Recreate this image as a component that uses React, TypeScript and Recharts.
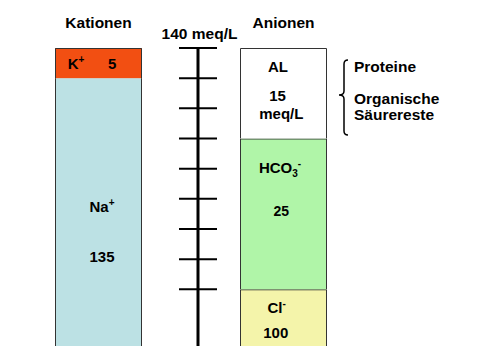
import React from 'react';
import { BarChart, Bar, XAxis, YAxis } from 'recharts';

// Ionogramm des Plasmas (meq/L)
const columns = ['Kationen', 'Anionen'];
const natrium = [135, 0];
const kalium = [5, 0];
const chlorid = [0, 100];
const bicarbonat = [0, 25];
const anionenluecke = [0, 15];

const scaleTicks = [140, 135, 130, 125, 120, 115, 110, 105, 100];
const scaleTop = 140;
const scaleBottom = 90.6;
const scaleUnit = 'meq/L';
const anionGapNotes = ['Proteine', 'Organische', 'Säurereste'];

const rows = columns.map((name, i) => ({
  name,
  Na: natrium[i],
  K: kalium[i],
  Cl: chlorid[i],
  HCO3: bicarbonat[i],
  AL: anionenluecke[i],
}));

const W = 471;
const H = 344;
const FONT = '"Liberation Sans", Arial, sans-serif';
const INK = '#000';
const EDGE = '#333';
const PLOT_TOP = 40;
const PLOT_BOTTOM_GAP = 6;
const SCALE_X = 190;
const SCALE_HALF_TICK = 19;

type Seg = { t: string; sub?: boolean; sup?: boolean };
type Line = {
  dx: number;
  dy: number;
  anchor?: 'start' | 'middle' | 'end';
  segs?: Seg[];
  value?: boolean;
  size?: number;
};

function renderSegs(segs: Seg[]) {
  let cur = 0;
  return segs.map((s, i) => {
    const target = s.sup ? -6 : s.sub ? 4 : 0;
    const dy = target - cur;
    cur = target;
    return (
      <tspan key={i} dy={dy} fontSize={s.sup || s.sub ? 10 : undefined}>
        {s.t}
      </tspan>
    );
  });
}

function barShape(key: string, fill: string, openTop: boolean, lines: Line[]) {
  return (props: any) => {
    const { x, y, width, height, payload } = props;
    if (!height || height <= 0 || !payload || !payload[key]) return null;
    const value = payload[key];
    const l = Math.round(x) + 0.5;
    const r = Math.round(x + width) - 0.5;
    const t = y;
    const b = y + height;
    const outline = openTop
      ? `M${l},${t} V${b} M${r},${t} V${b}`
      : `M${l},${b} V${t + 0.5} H${r} V${b}`;
    return (
      <g>
        <rect x={x} y={y} width={width} height={height} fill={fill} />
        <path d={outline} fill="none" stroke={EDGE} strokeWidth={1} />
        {lines.map((ln, i) => (
          <text
            key={i}
            x={x + ln.dx}
            y={y + ln.dy}
            textAnchor={ln.anchor ?? 'middle'}
            fontFamily={FONT}
            fontWeight="bold"
            fontSize={ln.size ?? 15}
            fill={INK}
          >
            {ln.value ? String(value) : renderSegs(ln.segs ?? [])}
          </text>
        ))}
      </g>
    );
  };
}

const shapeNa = barShape('Na', '#BCE1E4', true, [
  { dx: 47, dy: 134.2, segs: [{ t: 'Na' }, { t: '+', sup: true }] },
  { dx: 47, dy: 184.2, value: true },
]);
const shapeK = barShape('K', '#F24F12', false, [
  { dx: 12.7, dy: 20.7, anchor: 'start', segs: [{ t: 'K' }, { t: '+', sup: true }] },
  { dx: 57.2, dy: 20.7, value: true },
]);
const shapeCl = barShape('Cl', '#F4F4AA', false, [
  { dx: 36.7, dy: 24.1, segs: [{ t: 'Cl' }, { t: '-', sup: true }] },
  { dx: 35.8, dy: 49.1, value: true },
]);
const shapeHCO3 = barShape('HCO3', '#B0F5A8', false, [
  { dx: 40, dy: 34.3, segs: [{ t: 'HCO' }, { t: '3', sub: true }, { t: '-', sup: true }] },
  { dx: 41.3, dy: 77.3, value: true, size: 14 },
]);
const shapeAL = barShape('AL', '#FFFFFF', false, [
  { dx: 38, dy: 24.3, segs: [{ t: 'AL' }] },
  { dx: 37.5, dy: 53.3, value: true },
  { dx: 41.3, dy: 71, segs: [{ t: 'meq/L' }] },
]);

const textStyle = { fontFamily: FONT, fontWeight: 'bold' as const, fontSize: 15.5, fill: INK };

// Tick of the middle meq/L scale: a dash crossing the axis line, with the unit
// label above the topmost value.
function ScaleTick(props: any) {
  const { x, y, payload } = props;
  return (
    <g>
      <line
        x1={x - SCALE_HALF_TICK}
        x2={x + SCALE_HALF_TICK}
        y1={y}
        y2={y}
        stroke={INK}
        strokeWidth={2}
      />
      {payload.value === scaleTop && (
        <text x={x + 1.5} y={y - 9} textAnchor="middle" {...textStyle}>
          {`${scaleTop} ${scaleUnit}`}
        </text>
      )}
    </g>
  );
}

export default function App() {
  return (
    <div style={{ position: 'relative', width: W, height: H }}>
      <BarChart
        width={W}
        height={H}
        data={rows}
        margin={{ top: PLOT_TOP - 30, right: 103, bottom: PLOT_BOTTOM_GAP, left: -2 }}
      >
        <XAxis
          dataKey="name"
          orientation="top"
          axisLine={false}
          tickLine={false}
          tickSize={0}
          tickMargin={20}
          tick={textStyle}
        />
        <YAxis hide domain={[scaleBottom, scaleTop]} allowDataOverflow />

        <Bar dataKey="Na" stackId="ion" barSize={87} shape={shapeNa} isAnimationActive={false} />
        <Bar dataKey="K" stackId="ion" barSize={87} shape={shapeK} isAnimationActive={false} />
        <Bar dataKey="Cl" stackId="ion" barSize={87} shape={shapeCl} isAnimationActive={false} />
        <Bar dataKey="HCO3" stackId="ion" barSize={87} shape={shapeHCO3} isAnimationActive={false} />
        <Bar dataKey="AL" stackId="ion" barSize={87} shape={shapeAL} isAnimationActive={false} />

        <path
          d="M340,52 Q336,52 336,56 L336,83 Q336,87 331,87 Q336,87 336,91 L336,123 Q336,127 340,127"
          fill="none"
          stroke={INK}
          strokeWidth={1.5}
        />
        {anionGapNotes.map((note, i) => (
          <text key={note} x={346} y={[64.3, 96, 111.8][i]} {...textStyle}>
            {note}
          </text>
        ))}
      </BarChart>

      {/* meq/L scale between the two columns, sharing the same value range */}
      <div style={{ position: 'absolute', left: 0, top: 0, pointerEvents: 'none' }}>
        <BarChart
          width={W}
          height={H}
          data={rows}
          margin={{ top: PLOT_TOP, right: 20, bottom: PLOT_BOTTOM_GAP, left: SCALE_X - 40 }}
        >
          <XAxis dataKey="name" hide />
          <YAxis
            width={40}
            domain={[scaleBottom, scaleTop]}
            allowDataOverflow
            ticks={scaleTicks}
            interval={0}
            tickSize={0}
            tickMargin={0}
            tickLine={false}
            axisLine={{ stroke: INK, strokeWidth: 3 }}
            tick={<ScaleTick />}
          />
        </BarChart>
      </div>
    </div>
  );
}
